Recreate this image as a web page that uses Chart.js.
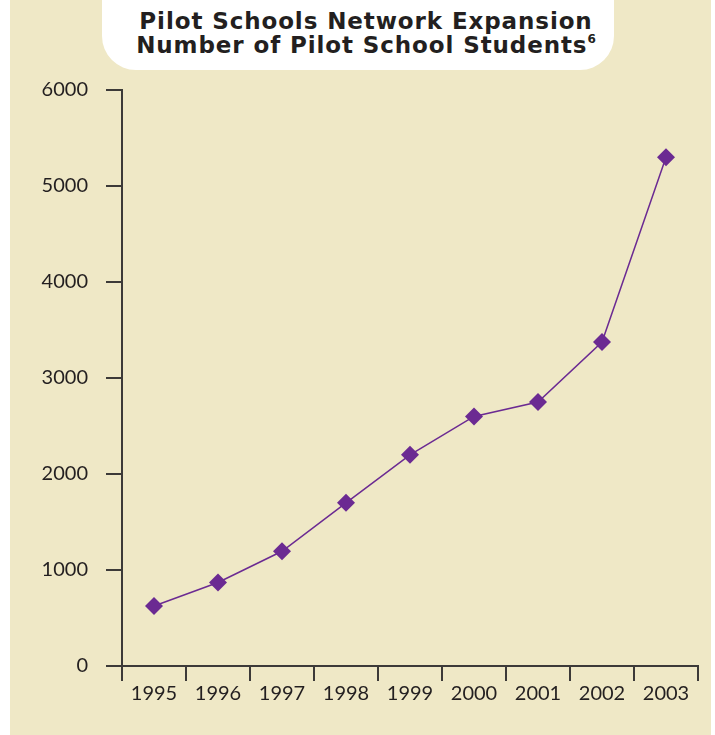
<!DOCTYPE html>
<html lang="en">
<head>
    <meta charset="UTF-8">
    <title>Pilot Schools Network Expansion</title>
    <script src="https://cdn.jsdelivr.net/npm/chart.js"></script>
    <style>
        html, body { margin: 0; padding: 0; background: #fff; }
        #wrap { position: relative; width: 715px; height: 735px; overflow: hidden; }
        #panel { position: absolute; left: 10px; top: 0; width: 701px; height: 735px; background: #efe8c6; }
        #titlebox {
            position: absolute; left: 102px; top: 0; width: 512px; height: 70px;
            background: #fff; border-radius: 0 0 34px 34px;
        }
        #title {
            position: absolute; left: 102px; top: 9px; width: 528px; text-align: center;
            font-family: 'DejaVu Sans', sans-serif; font-weight: bold; font-size: 23px; line-height: 24px;
            color: #231f20; letter-spacing: 0.9px;
        }
        #title sup { font-size: 12px; vertical-align: 10px; line-height: 0; letter-spacing: 0; }
        #chart { position: absolute; left: 0; top: 0; }
    </style>
</head>
<body>
<div id="wrap">
    <div id="panel"></div>
    <div id="titlebox"></div>
    <div id="title">Pilot Schools Network Expansion<br>Number of Pilot School Students<sup>6</sup></div>
    <canvas id="chart" width="715" height="735"></canvas>
</div>
<script>
    const years = ['1995', '1996', '1997', '1998', '1999', '2000', '2001', '2002', '2003'];
    const students = [625, 870, 1195, 1700, 2200, 2600, 2750, 3375, 5300];
    const yTicks = [0, 1000, 2000, 3000, 4000, 5000, 6000];

    const ink = '#231f20';
    const axisColor = '#3c3a38';
    const purple = '#6b2a92';

    const ctx = document.getElementById('chart').getContext('2d');
    new Chart(ctx, {
        type: 'line',
        data: {
            labels: years,
            datasets: [{
                data: students,
                borderColor: purple,
                borderWidth: 1.5,
                backgroundColor: purple,
                pointStyle: 'rectRot',
                pointRadius: 9,
                pointHoverRadius: 9,
                pointBorderWidth: 0,
                tension: 0
            }]
        },
        options: {
            responsive: false,
            animation: false,
            events: [],
            layout: { padding: { left: 0, right: 17, top: 90, bottom: 0 } },
            plugins: { legend: { display: false }, tooltip: { enabled: false }, title: { display: false } },
            scales: {
                x: {
                    type: 'category',
                    offset: true,
                    grid: { offset: true, drawOnChartArea: false, drawTicks: true, tickLength: 15, color: axisColor, lineWidth: 2 },
                    border: { display: true, color: axisColor, width: 2 },
                    ticks: { color: ink, font: { family: 'Lato', size: 20 }, padding: 1, maxRotation: 0, autoSkip: false },
                    afterFit: s => { s.height = 69; }
                },
                y: {
                    min: 0,
                    max: 6000,
                    afterBuildTicks: s => { s.ticks = yTicks.map(v => ({ value: v })); },
                    grid: { drawOnChartArea: false, drawTicks: true, tickLength: 16, color: axisColor, lineWidth: 2 },
                    border: { display: true, color: axisColor, width: 2 },
                    ticks: { color: ink, font: { family: 'Lato', size: 20 }, padding: 18, callback: v => String(v) },
                    afterFit: s => { s.width = 122; }
                }
            }
        }
    });
</script>
</body>
</html>
